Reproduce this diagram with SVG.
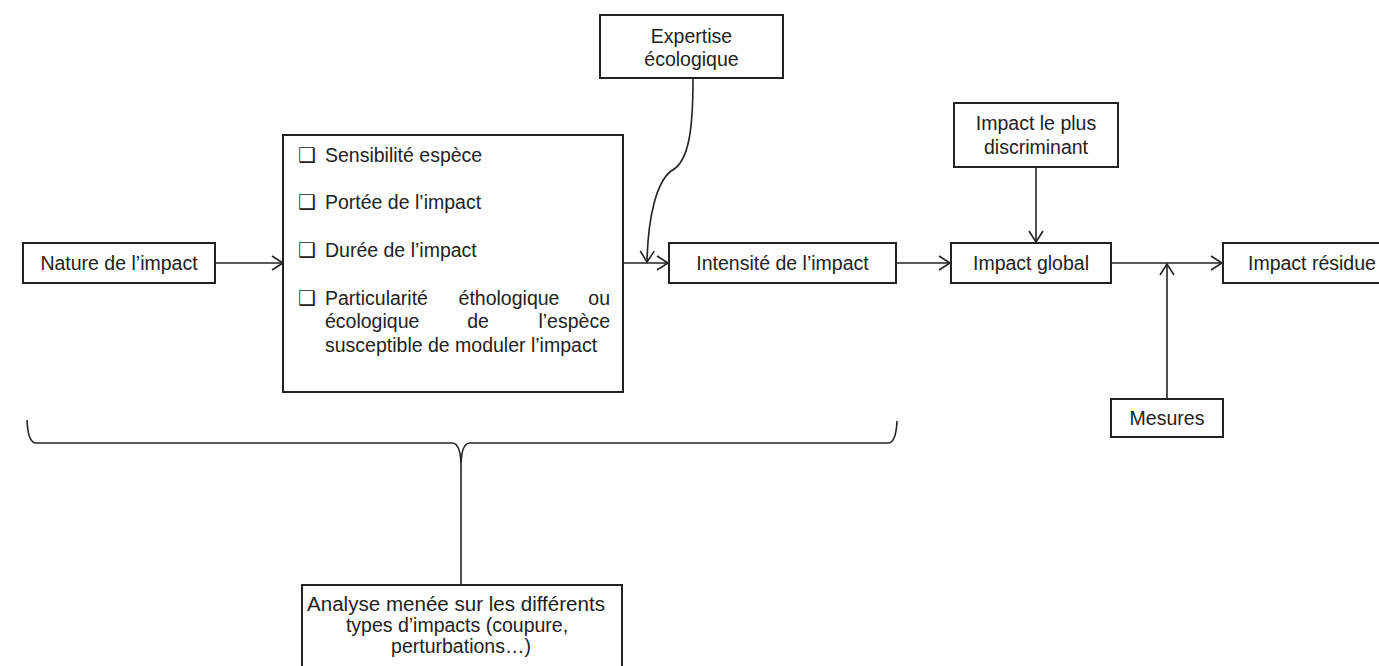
<svg xmlns="http://www.w3.org/2000/svg" width="1379" height="666" viewBox="0 0 1379 666">
<style>
.box{fill:#fff;stroke:#222;stroke-width:2}
.t{font-family:"Liberation Sans",Arial,sans-serif;font-size:19.5px;fill:#222}
.c{text-anchor:middle}
.e{text-anchor:end}
.cb{font-family:"DejaVu Sans",sans-serif;font-size:20px;fill:#222}
.ln{fill:none;stroke:#222;stroke-width:1.6}
</style>
<defs>
<marker id="arr" markerUnits="userSpaceOnUse" markerWidth="14" markerHeight="16" refX="12" refY="8" orient="auto" viewBox="0 0 14 16">
<path d="M1,1 L12,8 L1,15" fill="none" stroke="#222" stroke-width="1.6"/>
</marker>
</defs>
<rect width="1379" height="666" fill="#fff"/>
<g id="connectors">
<line class="ln" x1="215" y1="263" x2="283" y2="263" marker-end="url(#arr)"/>
<line class="ln" x1="623" y1="263" x2="668" y2="263" marker-end="url(#arr)"/>
<path class="ln" d="M693,78 C693,125 690,162 671,171 C657,182 648,215 647,262" marker-end="url(#arr)"/>
<line class="ln" x1="896" y1="263" x2="950" y2="263" marker-end="url(#arr)"/>
<line class="ln" x1="1036" y1="167" x2="1036" y2="242" marker-end="url(#arr)"/>
<line class="ln" x1="1111" y1="263" x2="1222" y2="263" marker-end="url(#arr)"/>
<line class="ln" x1="1167" y1="399" x2="1167" y2="264" marker-end="url(#arr)"/>
<path class="ln" d="M27,420 Q28,443 36,443 L452,443 Q461,443 461,467 Q461,443 470,443 L888,443 Q896,443 897,421"/>
<line class="ln" x1="461" y1="467" x2="461" y2="585"/>
</g>
<g id="nature">
<rect class="box" x="23" y="243" width="192" height="40"/>
<text class="t c" x="119" y="270">Nature de l’impact</text>
</g>
<g id="criteres">
<rect class="box" x="283" y="135" width="340" height="257"/>
<text class="cb" x="298" y="162">❑</text>
<text class="t" x="325" y="162">Sensibilité espèce</text>
<text class="cb" x="298" y="209">❑</text>
<text class="t" x="325" y="209">Portée de l’impact</text>
<text class="cb" x="298" y="257">❑</text>
<text class="t" x="325" y="257">Durée de l’impact</text>
<text class="cb" x="298" y="305">❑</text>
<text class="t" x="325" y="305">Particularité</text>
<text class="t c" x="509" y="305">éthologique</text>
<text class="t e" x="610" y="305">ou</text>
<text class="t" x="325" y="328">écologique</text>
<text class="t c" x="478" y="328">de</text>
<text class="t e" x="610" y="328">l’espèce</text>
<text class="t" x="325" y="352">susceptible de moduler l’impact</text>
</g>
<g id="expertise">
<rect class="box" x="600" y="15" width="183" height="63"/>
<text class="t c" x="691.5" y="43">Expertise</text>
<text class="t c" x="691.5" y="66">écologique</text>
</g>
<g id="intensite">
<rect class="box" x="669" y="243" width="227" height="40"/>
<text class="t c" x="782.5" y="270">Intensité de l’impact</text>
</g>
<g id="discriminant">
<rect class="box" x="954" y="103" width="164" height="64"/>
<text class="t c" x="1036" y="130">Impact le plus</text>
<text class="t c" x="1036" y="154">discriminant</text>
</g>
<g id="global">
<rect class="box" x="951" y="243" width="160" height="40"/>
<text class="t c" x="1031" y="270">Impact global</text>
</g>
<g id="residue">
<rect class="box" x="1223" y="243" width="170" height="40"/>
<text class="t" x="1248" y="270">Impact résidue</text>
</g>
<g id="mesures">
<rect class="box" x="1111" y="399" width="112" height="38"/>
<text class="t c" x="1167" y="425">Mesures</text>
</g>
<g id="analyse">
<rect class="box" x="302" y="585" width="320" height="90"/>
<text class="t c" x="456" y="611" textLength="298" lengthAdjust="spacingAndGlyphs">Analyse menée sur les différents</text>
<text class="t c" x="457" y="632">types d’impacts (coupure,</text>
<text class="t c" x="461" y="653">perturbations…)</text>
</g>
</svg>
